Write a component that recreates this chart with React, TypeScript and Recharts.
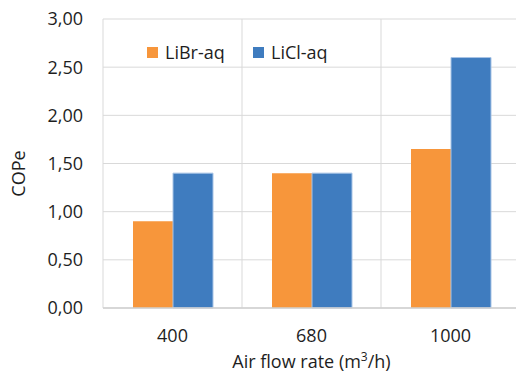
import React from 'react';
import { BarChart, Bar, XAxis, YAxis, CartesianGrid } from 'recharts';

const categories = ['400', '680', '1000'];
const libr = [0.9, 1.4, 1.65];
const licl = [1.4, 1.4, 2.6];
const yTicks = [0, 0.5, 1, 1.5, 2, 2.5, 3];
const seriesNames = ['LiBr-aq', 'LiCl-aq'];

const data = categories.map((c, i) => ({ name: c, LiBr: libr[i], LiCl: licl[i] }));

const FONT = '"Open Sans", sans-serif';
const TXT = '#1e1e1e';
const ORANGE = '#F7963B';
const BLUE = '#3F7CBF';

const LegendBox = () => (
  <div style={{ position: 'absolute', left: 147, top: 40, display: 'flex', alignItems: 'center', fontFamily: FONT, fontSize: 18, color: TXT, lineHeight: '24px' }}>
    <div style={{ display: 'flex', alignItems: 'center', width: 106 }}>
      <span style={{ width: 11, height: 11, background: ORANGE, display: 'inline-block', marginRight: 7 }} />
      <span>{seriesNames[0]}</span>
    </div>
    <div style={{ display: 'flex', alignItems: 'center' }}>
      <span style={{ width: 11, height: 11, background: BLUE, display: 'inline-block', marginRight: 7 }} />
      <span>{seriesNames[1]}</span>
    </div>
  </div>
);

export default function App() {
  return (
    <div style={{ position: 'absolute', left: 0, top: 0, width: 516, height: 373, overflow: 'hidden', background: '#fff' }}>
      <BarChart width={530} height={373} data={data} margin={{ top: 19, right: 10, bottom: 0, left: 0 }} barGap={0}>
        <CartesianGrid
          stroke="#d9d9d9"
          strokeWidth={1}
          verticalCoordinatesGenerator={({ offset }: any) =>
            categories.map((_, i) => offset.left + (i * offset.width) / categories.length).concat([offset.left + offset.width])
          }
        />
        <XAxis
          dataKey="name"
          height={65}
          tickLine={false}
          tickSize={0}
          tickMargin={21}
          axisLine={{ stroke: '#d0d0d0', strokeWidth: 1.5 }}
          tick={{ fontFamily: FONT, fontSize: 18, fill: TXT }}
          label={{
            content: ({ viewBox }: any) => (
              <text
                x={viewBox.x + viewBox.width / 2}
                y={viewBox.y + 60}
                textAnchor="middle"
                fontFamily={FONT}
                fontSize={18}
                fill={TXT}
              >
                Air flow rate (m<tspan dy={-7} fontSize={12}>3</tspan><tspan dy={7}>/h)</tspan>
              </text>
            ),
          }}
        />
        <YAxis
          width={103}
          domain={[0, 3]}
          ticks={yTicks}
          interval={0}
          axisLine={false}
          tickLine={false}
          tickSize={0}
          tickMargin={20}
          tickFormatter={(v: number) => v.toFixed(2).replace('.', ',')}
          tick={{ fontFamily: FONT, fontSize: 18, fill: TXT }}
          label={{
            content: ({ viewBox }: any) => {
              const x = viewBox.x + 25;
              const y = viewBox.y + viewBox.height / 2 + 10;
              return (
                <text x={x} y={y} transform={`rotate(-90, ${x}, ${y})`} textAnchor="middle" fontFamily={FONT} fontSize={18} fill={TXT}>
                  COPe
                </text>
              );
            },
          }}
        />
        <Bar dataKey="LiBr" name={seriesNames[0]} fill={ORANGE} barSize={40} isAnimationActive={false} />
        <Bar dataKey="LiCl" name={seriesNames[1]} fill={BLUE} stroke="#a8c4e6" strokeWidth={1} barSize={40} isAnimationActive={false} />
      </BarChart>
      <LegendBox />
    </div>
  );
}
